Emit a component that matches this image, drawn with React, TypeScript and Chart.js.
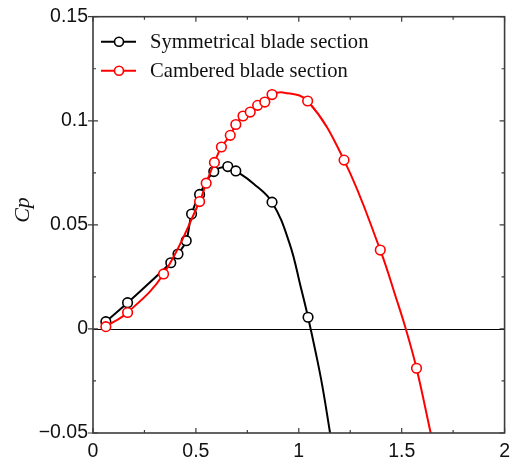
import React, { useEffect, useRef } from "react";
import { Chart, registerables } from "chart.js";

Chart.register(...registerables);

// ---- data ----
const SYM_LABEL = "Symmetrical blade section";
const CAM_LABEL = "Cambered blade section";
const Y_TITLE = "Cp";

// measured points (with markers)
const SYM_X = [0.0625, 0.168, 0.378, 0.413, 0.453, 0.479, 0.518, 0.587, 0.655, 0.694, 0.87, 1.045];
const SYM_Y = [0.0035, 0.0126, 0.0318, 0.036, 0.0424, 0.0552, 0.0646, 0.0756, 0.078, 0.0759, 0.0609, 0.0056];
// points on the fitted curve (no marker)
const SYM_CURVE_X = [0.779, 0.955, 1.011, 1.083, 1.115, 1.152];
const SYM_CURVE_Y = [0.0699, 0.0411, 0.0195, -0.0117, -0.0277, -0.05];

const CAM_X = [0.0625, 0.168, 0.343, 0.518, 0.55, 0.59, 0.624, 0.667, 0.694, 0.729, 0.764, 0.8, 0.835, 0.87, 1.043, 1.22, 1.396, 1.572];
const CAM_Y = [0.0011, 0.0079, 0.0264, 0.0612, 0.07, 0.08, 0.0874, 0.093, 0.0982, 0.1023, 0.1042, 0.1074, 0.109, 0.1126, 0.1095, 0.0811, 0.0379, -0.0189];
const CAM_CURVE_X = [0.93, 1.476, 1.52, 1.641];
const CAM_CURVE_Y = [0.1135, 0.0139, 0.0, -0.05];

const X_MIN = 0, X_MAX = 2, X_STEP = 0.5;
const Y_MIN = -0.05, Y_MAX = 0.15, Y_STEP = 0.05;

const SYM_COLOR = "#000000";
const CAM_COLOR = "#ff0000";

type P = { x: number; y: number; m: boolean };
function merge(mx: number[], my: number[], cx: number[], cy: number[]): P[] {
  const pts: P[] = [];
  mx.forEach((x, i) => pts.push({ x, y: my[i], m: true }));
  cx.forEach((x, i) => pts.push({ x, y: cy[i], m: false }));
  pts.sort((a, b) => a.x - b.x);
  return pts;
}

function fmt(v: number): string {
  const s = String(parseFloat(v.toFixed(3)));
  return s.replace("-", "\u2212");
}

const SERIF = '"Liberation Serif", "Times New Roman", Times, serif';
const SANS = '"Liberation Sans", Arial, Helvetica, sans-serif';

const framePlugin = {
  id: "framePlugin",
  beforeDatasetsDraw(chart: any) {
    const { ctx, chartArea } = chart;
    const y0 = chart.scales.y.getPixelForValue(0);
    ctx.save();
    ctx.strokeStyle = "#000";
    ctx.lineWidth = 1;
    ctx.beginPath();
    ctx.moveTo(chartArea.left, Math.round(y0) + 0.5);
    ctx.lineTo(chartArea.right, Math.round(y0) + 0.5);
    ctx.stroke();
    ctx.restore();
  },
  afterDatasetsDraw(chart: any) {
    const { ctx, chartArea } = chart;
    const { left, right, top, bottom } = chartArea;
    const xs = chart.scales.x;
    const ys = chart.scales.y;
    ctx.save();
    ctx.strokeStyle = "#3c3c3c";
    ctx.lineWidth = 1.6;
    ctx.strokeRect(left, top, right - left, bottom - top);
    ctx.lineWidth = 1.2;
    ctx.beginPath();
    const MAJ = 5, MIN = 3;
    // x ticks
    for (let i = 0; i <= (X_MAX - X_MIN) / (X_STEP / 2) + 0.001; i++) {
      const v = X_MIN + i * X_STEP / 2;
      const px = xs.getPixelForValue(v);
      const len = i % 2 === 0 ? MAJ : MIN;
      ctx.moveTo(px, bottom); ctx.lineTo(px, bottom - len);
      ctx.moveTo(px, top); ctx.lineTo(px, top + len);
    }
    // y ticks
    for (let i = 0; i <= (Y_MAX - Y_MIN) / (Y_STEP / 2) + 0.001; i++) {
      const v = Y_MIN + i * Y_STEP / 2;
      const py = ys.getPixelForValue(v);
      const major = i % 2 === 0;
      const len = major ? MAJ : MIN;
      if (major) { ctx.moveTo(left - 5, py); ctx.lineTo(left + len, py); }
      else { ctx.moveTo(left, py); ctx.lineTo(left + len, py); }
      ctx.moveTo(right, py); ctx.lineTo(right - len, py);
    }
    ctx.stroke();

    // legend
    const rows = [
      { label: SYM_LABEL, color: SYM_COLOR, y: 41.7 },
      { label: CAM_LABEL, color: CAM_COLOR, y: 70.7 },
    ];
    rows.forEach((r) => {
      ctx.strokeStyle = r.color;
      ctx.lineWidth = 2;
      ctx.beginPath();
      ctx.moveTo(left + 8, r.y);
      ctx.lineTo(left + 43, r.y);
      ctx.stroke();
      ctx.beginPath();
      ctx.fillStyle = "#fff";
      ctx.lineWidth = 1.6;
      ctx.arc(left + 26, r.y, 4.5, 0, Math.PI * 2);
      ctx.fill();
      ctx.stroke();
      ctx.fillStyle = "#111";
      ctx.font = `20.6px ${SERIF}`;
      ctx.textAlign = "left";
      ctx.textBaseline = "middle";
      ctx.fillText(r.label, left + 57, r.y + 1);
    });

    // y title
    ctx.translate(23.5, 210);
    ctx.rotate(-Math.PI / 2);
    ctx.font = `italic 22px ${SERIF}`;
    ctx.fillStyle = "#111";
    ctx.textAlign = "center";
    ctx.textBaseline = "middle";
    ctx.fillText(Y_TITLE, 0, 0);
    ctx.restore();
  },
};

export default function App() {
  const ref = useRef<HTMLCanvasElement | null>(null);
  useEffect(() => {
    document.body.style.margin = "0";
    const canvas = ref.current!;
    const symPts = merge(SYM_X, SYM_Y, SYM_CURVE_X, SYM_CURVE_Y);
    const camPts = merge(CAM_X, CAM_Y, CAM_CURVE_X, CAM_CURVE_Y);
    const mk = (label: string, pts: P[], color: string, order: number) => ({
      label,
      data: pts.map((p) => ({ x: p.x, y: p.y })),
      borderColor: color,
      borderWidth: 2,
      backgroundColor: "#ffffff",
      pointRadius: pts.map((p) => (p.m ? 4.8 : 0)),
      pointBorderColor: color,
      pointBackgroundColor: "#ffffff",
      pointBorderWidth: 1.6,
      pointHoverRadius: pts.map((p) => (p.m ? 4.8 : 0)),
      tension: 0.4,
      fill: false,
      order,
    });
    const chart = new Chart(canvas, {
      type: "line",
      data: {
        datasets: [
          mk(SYM_LABEL, symPts, SYM_COLOR, 1),
          mk(CAM_LABEL, camPts, CAM_COLOR, 0),
        ],
      },
      options: {
        responsive: false,
        animation: false,
        devicePixelRatio: 1,
        layout: { padding: { left: 0, top: 16, right: 8, bottom: 0 } },
        plugins: { legend: { display: false }, tooltip: { enabled: false } },
        events: [],
        scales: {
          x: {
            type: "linear",
            min: X_MIN,
            max: X_MAX,
            grid: { display: false, drawTicks: false },
            border: { display: false },
            ticks: {
              stepSize: X_STEP,
              padding: 7,
              color: "#111",
              font: { family: SANS, size: 19.5 },
              maxRotation: 0,
              callback: (v: any) => fmt(Number(v)),
            },
            afterFit: (s: any) => { s.height = 25; },
          },
          y: {
            type: "linear",
            min: Y_MIN,
            max: Y_MAX,
            grid: { display: false, drawTicks: false },
            border: { display: false },
            ticks: {
              stepSize: Y_STEP,
              padding: 5,
              color: "#111",
              font: { family: SANS, size: 19.5 },
              callback: (v: any) => fmt(Number(v)),
            },
            afterFit: (s: any) => { s.width = 93; },
          },
        },
      },
      plugins: [framePlugin],
    } as any);
    return () => chart.destroy();
  }, []);
  return (
    <div style={{ width: 517, height: 458, position: "relative" }}>
      <canvas ref={ref} width={517} height={458} style={{ display: "block" }} />
    </div>
  );
}
